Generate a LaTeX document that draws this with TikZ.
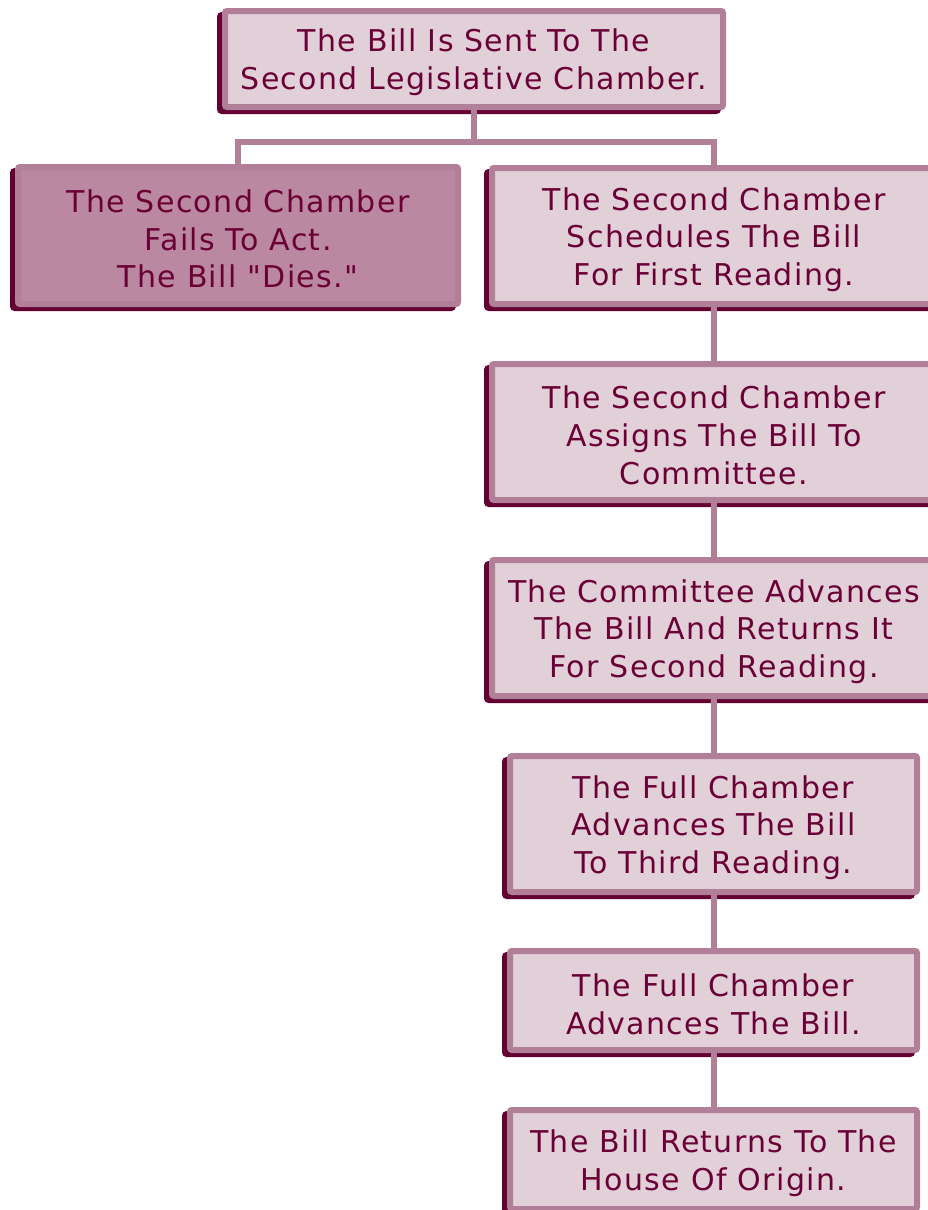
\documentclass[tikz,border=0pt]{standalone}
\usepackage{fontspec}
\setmainfont[LetterSpace=4.5, Ligatures=TeXOff]{DejaVu Sans}
\usetikzlibrary{shadows}
\definecolor{bordc}{HTML}{B27F98}
\definecolor{fillc}{HTML}{E2D0D9}
\definecolor{darkfill}{HTML}{BA88A0}
\definecolor{shadc}{HTML}{650032}
\definecolor{txtc}{HTML}{6B0037}
\tikzset{
  stepbox/.style={rectangle, draw=bordc, line width=6pt, fill=fillc, rounded corners=2pt,
    outer sep=0pt, inner sep=0pt,
    general shadow={draw=shadc, fill=shadc, line width=6pt, shadow xshift=-5pt, shadow yshift=-4pt}},
  steptext/.style={text=txtc, align=center, inner sep=0pt, yshift=-3.5pt,
    font=\fontsize{30}{37.7}\selectfont},
  link/.style={draw=bordc, line width=6pt, line join=miter}
}
\begin{document}
\begin{tikzpicture}[x=1pt,y=1pt]
\useasboundingbox (0,0) rectangle (928,-1210);
\clip (0,0) rectangle (928,-1210);
% boxes (widths/heights are stroke-centre sizes: outer minus 6)
\node[stepbox, minimum width=498pt, minimum height=96pt] (top) at (474,-59) {};
\node[stepbox, fill=darkfill, minimum width=440pt, minimum height=137pt] (dies) at (238,-235.5) {};
\node[stepbox, minimum width=444pt, minimum height=136pt] (r1) at (714,-236) {};
\node[stepbox, minimum width=444pt, minimum height=136pt] (r2) at (714,-432) {};
\node[stepbox, minimum width=444pt, minimum height=136pt] (r3) at (714,-628) {};
\node[stepbox, minimum width=407pt, minimum height=136pt] (r4) at (713.5,-824) {};
\node[stepbox, minimum width=407pt, minimum height=99pt] (r5) at (713.5,-1000.5) {};
\node[stepbox, minimum width=407pt, minimum height=99pt] (r6) at (713.5,-1159.5) {};
% texts
\node[steptext] (topt) at (top.center) {The Bill Is Sent To The\\Second Legislative Chamber.};
\node[steptext] (diest) at (dies.center) {The Second Chamber\\Fails To Act.\\The Bill "Dies."};
\node[steptext] (r1t) at (r1.center) {The Second Chamber\\Schedules The Bill\\For First Reading.};
\node[steptext] (r2t) at (r2.center) {The Second Chamber\\Assigns The Bill To\\Committee.};
\node[steptext] (r3t) at (r3.center) {The Committee Advances\\The Bill And Returns It\\For Second Reading.};
\node[steptext] (r4t) at (r4.center) {The Full Chamber\\Advances The Bill\\To Third Reading.};
\node[steptext] (r5t) at (r5.center) {The Full Chamber\\Advances The Bill.};
\node[steptext] (r6t) at (r6.center) {The Bill Returns To The\\House Of Origin.};
\coordinate (hbar) at (474,-141.5);
% connectors
\draw[link] (top.south) -- (top.south |- hbar);
\draw[link] (dies.north) |- (hbar) -| (r1.north);
\draw[link] (r1.south) -- (r1.south |- r2.north);
\draw[link] (r2.south) -- (r2.south |- r3.north);
\draw[link] (r3.south) -- (r3.south |- r4.north);
\draw[link] (r4.south) -- (r4.south |- r5.north);
\draw[link] (r5.south) -- (r5.south |- r6.north);
\end{tikzpicture}
\end{document}
